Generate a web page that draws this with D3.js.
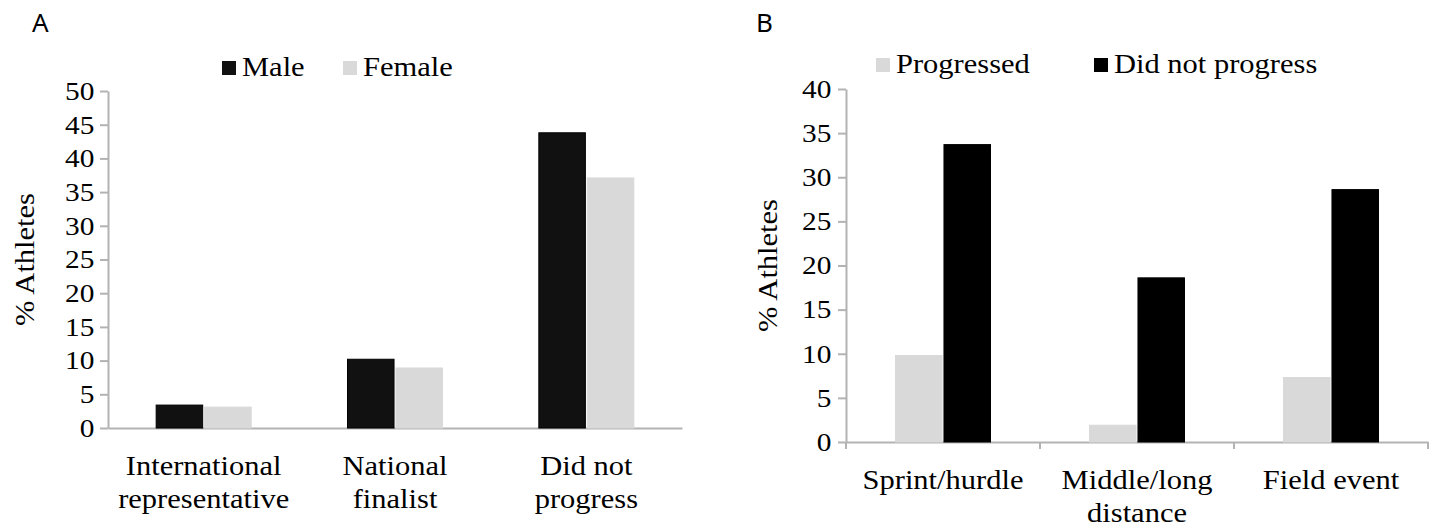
<!DOCTYPE html>
<html>
<head>
<meta charset="utf-8">
<script src="https://cdn.jsdelivr.net/npm/d3@7"></script>
<style>
body{margin:0;background:#fff}
svg text{font-family:"Liberation Serif","Times New Roman",Times,serif;fill:#000}
svg text.panel{font-family:"Noto Sans",sans-serif}
.axis path,.axis line{stroke:#b3b3b3;stroke-width:2}
</style>
</head>
<body>
<script>
// panel A
var catsA = ["International\nrepresentative", "National\nfinalist", "Did not\nprogress"];
var seriesA = ["Male", "Female"];
var maleA = [3.4, 10.2, 43.8];
var femaleA = [3.1, 8.9, 37.1];
var ticksA = [0, 5, 10, 15, 20, 25, 30, 35, 40, 45, 50];

// panel B
var catsB = ["Sprint/hurdle", "Middle/long\ndistance", "Field event"];
var seriesB = ["Progressed", "Did not progress"];
var progressedB = [9.8, 1.9, 7.3];
var notProgressedB = [33.7, 18.6, 28.6];
var ticksB = [0, 5, 10, 15, 20, 25, 30, 35, 40];

var SX = 1.13; // the picture's text is a bit wide
var serif = "'Liberation Serif', 'Times New Roman', serif";
var width = 1432, height = 529;

var svg = d3.select("body").append("svg")
  .attr("width", width)
  .attr("height", height);

function drawPanel(o) {
  var g = svg.append("g").attr("font-family", serif);

  var x = d3.scaleBand().domain(o.cats).range([o.x0, o.x1]).padding(0);
  var inner = d3.scaleBand().domain(o.series)
    .range([(x.bandwidth() - 95) / 2, (x.bandwidth() + 95) / 2])
    .paddingInner(0.04);
  var y = d3.scaleLinear().domain([0, o.ticks[o.ticks.length - 1]]).range([o.y0, o.y1]);

  // y axis
  var yAxis = d3.axisLeft(y).tickValues(o.ticks).tickSize(8).tickPadding(o.tickPad).tickSizeOuter(0);
  var ya = g.append("g").attr("class", "axis")
    .attr("transform", "translate(" + o.x0 + ",0)")
    .call(yAxis)
    .attr("font-family", serif);
  ya.selectAll("text")
    .style("font-family", serif)
    .style("font-size", "26px")
    .attr("transform", "scale(" + SX + ",1)");

  // x axis
  var xAxis = d3.axisBottom(x).tickSize(0).tickSizeOuter(0).tickFormat("");
  var xa = g.append("g").attr("class", "axis")
    .attr("transform", "translate(0," + o.y0 + ")")
    .call(xAxis)
    .attr("font-family", serif);
  xa.selectAll(".tick text").remove();
  xa.selectAll(".tick").each(function(d) {
    var t = d3.select(this).append("text")
      .attr("text-anchor", "middle")
      .attr("transform", "scale(" + SX + ",1)")
      .style("font-family", serif)
      .style("font-size", "27px");
    d.split("\n").forEach(function(line, i) {
      t.append("tspan").attr("x", 0).attr("y", 47 + i * 33).text(line);
    });
  });
  if (o.boundaryTicks) {
    var bounds = o.cats.map(function(c) { return x(c); }).concat([x.range()[1]]);
    xa.selectAll(".bound").data(bounds).enter().append("line")
      .attr("class", "bound")
      .attr("x1", function(d) { return d; }).attr("x2", function(d) { return d; })
      .attr("y1", 0).attr("y2", 7);
  }

  // bars
  var rows = o.cats.map(function(c, i) {
    return { cat: c, vals: o.series.map(function(s, j) { return { key: s, v: o.values[j][i] }; }) };
  });
  g.selectAll(".grp").data(rows).enter().append("g")
    .attr("transform", function(d) { return "translate(" + x(d.cat) + ",0)"; })
    .selectAll("rect").data(function(d) { return d.vals; }).enter().append("rect")
    .attr("x", function(d) { return inner(d.key); })
    .attr("y", function(d) { return y(d.v); })
    .attr("width", inner.bandwidth())
    .attr("height", function(d) { return o.y0 - y(d.v); })
    .attr("fill", function(d, j) { return o.colors[j]; })
    .attr("stroke", function(d, j) { return o.strokes[j]; })
    .attr("stroke-width", 1);

  // y title
  g.append("text")
    .attr("transform", "translate(" + o.titleX + "," + ((o.y0 + o.y1) / 2) + ") rotate(-90) scale(" + SX + ",1)")
    .attr("text-anchor", "middle")
    .style("font-family", serif)
    .style("font-size", "27px")
    .text("% Athletes");

  // legend
  o.series.forEach(function(s, j) {
    var lg = g.append("g").attr("transform", "translate(" + o.legX[j] + "," + o.legY + ")");
    lg.append("rect").attr("x", 0).attr("y", -15).attr("width", 14).attr("height", 14)
      .attr("fill", o.colors[j]);
    lg.append("text").attr("x", 20 / SX).attr("y", 0)
      .attr("transform", "scale(" + SX + ",1)")
      .style("font-family", serif)
      .style("font-size", "27px")
      .text(s);
  });

  // panel letter
  g.append("text").attr("class", "panel")
    .attr("x", o.letterX).attr("y", 32)
    .style("font-family", "'Noto Sans', sans-serif")
    .style("font-size", "26px")
    .text(o.letter);
}

drawPanel({
  letter: "A", letterX: 32,
  cats: catsA, series: seriesA, values: [maleA, femaleA], ticks: ticksA,
  x0: 108, x1: 682, y0: 428, y1: 91, tickPad: 4,
  colors: ["#111111", "#d9d9d9"], strokes: ["#000000", "#d9d9d9"],
  titleX: 34, legX: [222, 343], legY: 76, boundaryTicks: false
});

drawPanel({
  letter: "B", letterX: 756,
  cats: catsB, series: seriesB, values: [progressedB, notProgressedB], ticks: ticksB,
  x0: 846, x1: 1428, y0: 442, y1: 89, tickPad: 5,
  colors: ["#d9d9d9", "#000000"], strokes: ["#d9d9d9", "#000000"],
  titleX: 777, legX: [876, 1094], legY: 73, boundaryTicks: true
});
</script>
</body>
</html>
